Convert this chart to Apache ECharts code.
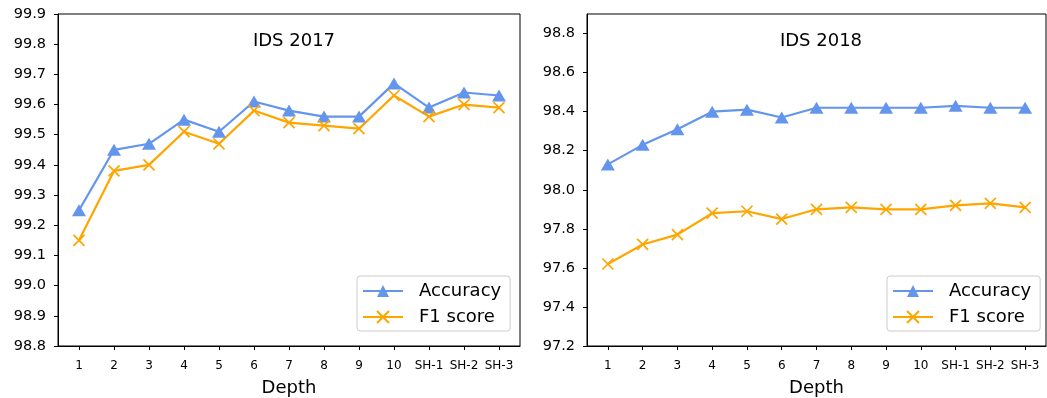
<!DOCTYPE html>
<html>
<head>
<meta charset="utf-8">
<script src="https://cdn.jsdelivr.net/npm/echarts@6/dist/echarts.min.js"></script>
<style>
html,body{margin:0;padding:0;background:#fff;}
#c{width:1047px;height:398px;}
</style>
</head>
<body>
<div id="c"></div>
<script>
const categories = ['1','2','3','4','5','6','7','8','9','10','SH-1','SH-2','SH-3'];
const acc2017 = [99.25, 99.45, 99.47, 99.55, 99.51, 99.61, 99.58, 99.56, 99.56, 99.67, 99.59, 99.64, 99.63];
const f12017  = [99.15, 99.38, 99.40, 99.51, 99.47, 99.58, 99.54, 99.53, 99.52, 99.63, 99.56, 99.60, 99.59];
const acc2018 = [98.13, 98.23, 98.31, 98.40, 98.41, 98.37, 98.42, 98.42, 98.42, 98.42, 98.43, 98.42, 98.42];
const f12018  = [97.62, 97.72, 97.77, 97.88, 97.89, 97.85, 97.90, 97.91, 97.90, 97.90, 97.92, 97.93, 97.91];
const yTicks2017 = [98.8, 98.9, 99.0, 99.1, 99.2, 99.3, 99.4, 99.5, 99.6, 99.7, 99.8, 99.9];
const yTicks2018 = [97.2, 97.4, 97.6, 97.8, 98.0, 98.2, 98.4, 98.6, 98.8];
const titles = ['IDS 2017', 'IDS 2018'];
const xName = 'Depth';

const FONT = 'DejaVu Sans';
const BLUE = '#6495ED';
const ORANGE = '#FFA500';
const xIdx = categories.map((c, i) => i);
const pts = arr => arr.map((v, i) => [i, v]);
const XMARK = 'path://M0,0L10,10M10,0L0,10';

function xAxis(gi) {
  return {
    type: 'value', gridIndex: gi, min: -0.6, max: 12.6,
    name: xName, nameLocation: 'middle', nameGap: 33,
    nameTextStyle: {fontFamily: FONT, fontSize: 18, color: '#000'},
    axisLine: {show: true, onZero: false, lineStyle: {color: '#000', width: 1}},
    axisTick: {show: true, inside: false, customValues: xIdx, length: 4, lineStyle: {color: '#000', width: 1}},
    axisLabel: {customValues: xIdx, formatter: v => categories[Math.round(v)], fontFamily: FONT, fontSize: 12, color: '#000', margin: 14},
    splitLine: {show: false}
  };
}
function yAxis(gi, ticks, min, max) {
  return {
    type: 'value', gridIndex: gi, min: min, max: max,
    axisLine: {show: true, onZero: false, lineStyle: {color: '#000', width: 1}},
    axisTick: {show: true, inside: false, customValues: ticks, length: 4, lineStyle: {color: '#000', width: 1}},
    axisLabel: {customValues: ticks, formatter: v => v.toFixed(1), fontFamily: FONT, fontSize: 14.5, color: '#000', margin: 12},
    splitLine: {show: false}
  };
}
function accSeries(gi, data) {
  return {
    name: 'Accuracy', type: 'line', xAxisIndex: gi, yAxisIndex: gi, data: pts(data),
    symbol: 'triangle', symbolSize: [14, 12], showAllSymbol: true,
    lineStyle: {color: BLUE, width: 2.2}, itemStyle: {color: BLUE},
    animation: false
  };
}
function f1Series(gi, data) {
  return {
    name: 'F1 score', type: 'line', xAxisIndex: gi, yAxisIndex: gi, data: pts(data),
    symbol: XMARK, symbolSize: 11, showAllSymbol: true,
    lineStyle: {color: ORANGE, width: 2.2},
    itemStyle: {color: ORANGE, borderColor: ORANGE, borderWidth: 1.7},
    animation: false
  };
}
function legend(left, top) {
  return {
    orient: 'vertical', left: left, top: top,
    data: ['Accuracy', 'F1 score'],
    backgroundColor: 'rgba(255,255,255,0.8)', borderColor: '#cccccc', borderWidth: 1, borderRadius: 3,
    padding: [6, 9, 5, 5], itemGap: 8, itemWidth: 40, itemHeight: 15,
    textStyle: {fontFamily: FONT, fontSize: 18, color: '#000', padding: [0, 0, 0, 11]},
    selectedMode: false
  };
}

const chart = echarts.init(document.getElementById('c'), null, {renderer: 'canvas'});
chart.setOption({
  animation: false,
  backgroundColor: '#fff',
  title: [
    {text: titles[0], left: 289, top: 27, textAlign: 'center', textStyle: {fontFamily: FONT, fontSize: 18, fontWeight: 'normal', color: '#000'}},
    {text: titles[1], left: 816, top: 27, textAlign: 'center', textStyle: {fontFamily: FONT, fontSize: 18, fontWeight: 'normal', color: '#000'}}
  ],
  grid: [
    {left: 58, right: 527, top: 14, bottom: 52, outerBoundsMode: 'none', containLabel: false, show: true, borderColor: '#000', borderWidth: 1, backgroundColor: 'transparent'},
    {left: 587, right: 1, top: 14, bottom: 52, outerBoundsMode: 'none', containLabel: false, show: true, borderColor: '#000', borderWidth: 1, backgroundColor: 'transparent'}
  ],
  xAxis: [xAxis(0), xAxis(1)],
  yAxis: [yAxis(0, yTicks2017, 98.8, 99.9), yAxis(1, yTicks2018, 97.2, 98.9)],
  legend: [legend(357, 276), legend(887, 276)],
  series: [accSeries(0, acc2017), f1Series(0, f12017), accSeries(1, acc2018), f1Series(1, f12018)]
});
</script>
</body>
</html>
